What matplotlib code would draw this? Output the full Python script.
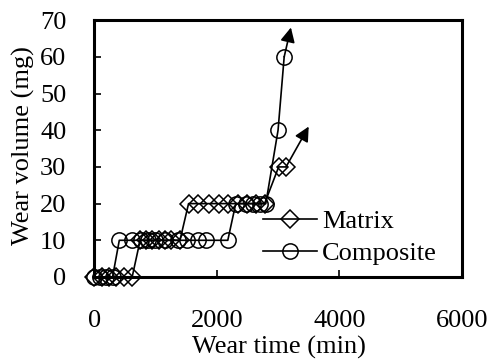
import matplotlib
matplotlib.use("Agg")
import matplotlib.pyplot as plt

# Wear test readings
matrix_time = [0, 120, 240, 360, 480, 620, 750, 850, 950, 1050, 1150, 1250, 1400,
               1540, 1700, 1870, 2030, 2180, 2340, 2500, 2640, 2780, 3010, 3130]
matrix_vol = [0, 0, 0, 0, 0, 0, 10, 10, 10, 10, 10, 10, 10,
              20, 20, 20, 20, 20, 20, 20, 20, 20, 30, 30]

comp_time = [0, 100, 200, 300, 410, 620, 770, 880, 1000, 1160, 1360, 1510, 1690,
             1830, 2180, 2310, 2470, 2590, 2700, 2800, 3000, 3100]
comp_vol = [0, 0, 0, 0, 10, 10, 10, 10, 10, 10, 10, 10, 10,
            10, 10, 20, 20, 20, 20, 20, 40, 60]

# Trend arrows continuing beyond the last reading
matrix_arrow_tip = (3500, 41)
comp_arrow_tip = (3210, 68)

x_ticks = [0, 2000, 4000, 6000]
y_ticks = [0, 10, 20, 30, 40, 50, 60, 70]

plt.rcParams["font.family"] = ["Liberation Serif", "DejaVu Serif"]
FS = 19

fig = plt.figure(figsize=(4.93, 3.6), dpi=100)
ax = fig.add_axes([0.191, 0.2306, 0.746, 0.7134])

ax.plot(matrix_time, matrix_vol, color="black", lw=1.2, marker="D",
        markersize=9, markerfacecolor="none", markeredgecolor="black",
        markeredgewidth=1.1, label="Matrix", zorder=3)
ax.plot(comp_time, comp_vol, color="black", lw=1.2, marker="o",
        markersize=11, markerfacecolor="none", markeredgecolor="black",
        markeredgewidth=1.1, label="Composite", zorder=3)

arrow_style = dict(arrowstyle="-|>", color="black", lw=1.2,
                   mutation_scale=22, shrinkA=0, shrinkB=0)
ax.annotate("", xy=matrix_arrow_tip, xytext=(matrix_time[-1], matrix_vol[-1]),
            arrowprops=arrow_style)
ax.annotate("", xy=comp_arrow_tip, xytext=(comp_time[-1], comp_vol[-1]),
            arrowprops=arrow_style)

ax.set_xlim(0, 6000)
ax.set_ylim(0, 70)
ax.set_xticks(x_ticks)
ax.set_yticks(y_ticks)
ax.tick_params(axis="both", direction="in", length=5, width=1.2, labelsize=FS)
ax.tick_params(axis="x", pad=24)
ax.tick_params(axis="y", pad=20)
for sp in ax.spines.values():
    sp.set_linewidth(2.2)
for ln in ax.lines:
    ln.set_clip_on(False)

ax.set_xlabel("Wear time (min)", fontsize=FS)
ax.set_ylabel("Wear volume (mg)", fontsize=FS)
ax.xaxis.set_label_coords(0.503, -0.228)
ax.yaxis.set_label_coords(-0.16, 0.51)

ax.legend(loc="center left", bbox_to_anchor=(0.459, 0.154), frameon=False,
          fontsize=FS, handlelength=2.05, handletextpad=0.2, labelspacing=0.3,
          borderpad=0, borderaxespad=0)

fig.savefig("out.png", dpi=100)
